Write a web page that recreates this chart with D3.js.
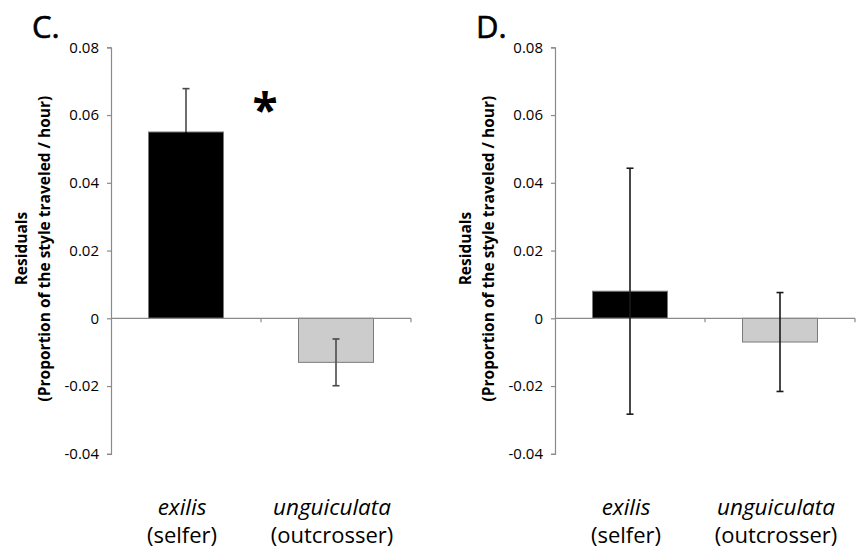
<!DOCTYPE html>
<html>
<head>
<meta charset="utf-8">
<script src="https://cdn.jsdelivr.net/npm/d3@7"></script>
<style>
  html, body { margin: 0; padding: 0; background: #fff; }
  svg { display: block; }
  text { font-family: "Open Sans", "DejaVu Sans", sans-serif; fill: #000; }
</style>
</head>
<body>
<svg id="chart" width="856" height="548"></svg>
<script>
// ---- data ----
const categories = ["exilis", "unguiculata"];
const categoryNotes = ["(selfer)", "(outcrosser)"];
const panelLetters = ["C.", "D."];
const valuesC = [0.055, -0.013];
const errorsC = [0.0128, 0.0069];
const valuesD = [0.008, -0.007];
const errorsD = [0.0363, 0.0146];
const yTicks = [-0.04, -0.02, 0, 0.02, 0.04, 0.06, 0.08];
const yTitle = ["Residuals", "(Proportion of the style traveled / hour)"];
const barColors = ["#000000", "#cccccc"];
const significance = ["*", ""];

// ---- layout ----
const svg = d3.select("#chart");
const panels = [
  { letter: panelLetters[0], values: valuesC, errors: errorsC, left: 111, errColor: "#4a4a4a", sig: true },
  { letter: panelLetters[1], values: valuesD, errors: errorsD, left: 555, errColor: "#1a1a1a", sig: false }
];
const plotW = 300, plotTop = 47.3, plotBottom = 453.8;
const axisColor = "#8a8a8a";

const y = d3.scaleLinear().domain([-0.04, 0.08]).range([plotBottom, plotTop]);

panels.forEach(p => {
  const g = svg.append("g").attr("transform", `translate(${p.left},0)`);
  const x = d3.scaleBand().domain(categories).range([0, plotW]).paddingInner(0).paddingOuter(0);
  const bw = x.bandwidth() * 0.5;

  // y axis
  const yAxis = d3.axisLeft(y).tickValues(yTicks).tickSize(4).tickPadding(8)
    .tickFormat(d => d === 0 ? "0" : d.toFixed(2));
  const ya = g.append("g").call(yAxis);
  ya.select(".domain").attr("stroke", axisColor).attr("stroke-width", 1.2);
  ya.selectAll(".tick line").attr("stroke", axisColor).attr("stroke-width", 1.2);
  ya.selectAll(".tick text").attr("font-size", 15).attr("fill", "#000")
    .attr("font-family", '"Open Sans", sans-serif');

  // bars
  g.selectAll("rect.bar").data(p.values).enter().append("rect")
    .attr("class", "bar")
    .attr("x", (d, i) => x(categories[i]) + (x.bandwidth() - bw) / 2)
    .attr("width", bw)
    .attr("y", d => y(Math.max(0, d)))
    .attr("height", d => Math.abs(y(d) - y(0)))
    .attr("fill", (d, i) => barColors[i])
    .attr("stroke", "#7a7a7a").attr("stroke-width", 1);

  // x axis at zero
  const xa = g.append("g").attr("transform", `translate(0,${y(0)})`);
  xa.append("line").attr("x1", 0).attr("x2", plotW).attr("y1", 0).attr("y2", 0)
    .attr("stroke", axisColor).attr("stroke-width", 1.2);
  xa.selectAll("line.xt").data(categories).enter().append("line")
    .attr("class", "xt")
    .attr("x1", d => x(d) + x.bandwidth()).attr("x2", d => x(d) + x.bandwidth())
    .attr("y1", 0).attr("y2", 4)
    .attr("stroke", axisColor).attr("stroke-width", 1.2);

  // error bars (the part inside a black bar blends with it)
  const capW = 7;
  p.values.forEach((v, i) => {
    const cx = x(categories[i]) + x.bandwidth() / 2;
    const e = p.errors[i];
    const col = barColors[i] === "#000000" && p.sig ? "#000" : p.errColor;
    const eg = g.append("g").attr("stroke-width", 1.6);
    eg.append("line").attr("x1", cx).attr("x2", cx).attr("y1", y(v + e)).attr("y2", y(v)).attr("stroke", p.errColor);
    eg.append("line").attr("x1", cx).attr("x2", cx).attr("y1", y(v)).attr("y2", y(v - e)).attr("stroke", col);
    eg.append("line").attr("x1", cx - capW / 2).attr("x2", cx + capW / 2).attr("y1", y(v + e)).attr("y2", y(v + e)).attr("stroke", p.errColor);
    eg.append("line").attr("x1", cx - capW / 2).attr("x2", cx + capW / 2).attr("y1", y(v - e)).attr("y2", y(v - e)).attr("stroke", col);
  });

  // significance star
  if (p.sig) {
    g.append("text")
      .attr("x", x(categories[1]) + 4)
      .attr("y", y(0.0633) + 23)
      .attr("text-anchor", "middle")
      .attr("font-size", 46).attr("font-weight", "bold")
      .text(significance[0]);
  }

  // category labels
  categories.forEach((c, i) => {
    const cx = x(c) + x.bandwidth() / 2 - 4;
    g.append("text").attr("x", cx).attr("y", 515).attr("text-anchor", "middle")
      .attr("font-size", 22.5).attr("font-style", "italic").text(c);
    g.append("text").attr("x", cx).attr("y", 543).attr("text-anchor", "middle")
      .attr("font-size", 22).text(categoryNotes[i]);
  });

  // y title
  const tcy = y(0.02);
  const tx = [-84, -61];
  yTitle.forEach((t, k) => {
    g.append("text")
      .attr("transform", `translate(${tx[k]},${tcy - 2}) rotate(-90)`)
      .attr("text-anchor", "middle")
      .attr("font-size", 15.5).attr("font-weight", "bold")
      .text(t);
  });

  // panel letter
  g.append("text").attr("x", -79).attr("y", 38)
    .attr("font-size", 31).attr("stroke", "#000").attr("stroke-width", 0.6).text(p.letter);
});
</script>
</body>
</html>
